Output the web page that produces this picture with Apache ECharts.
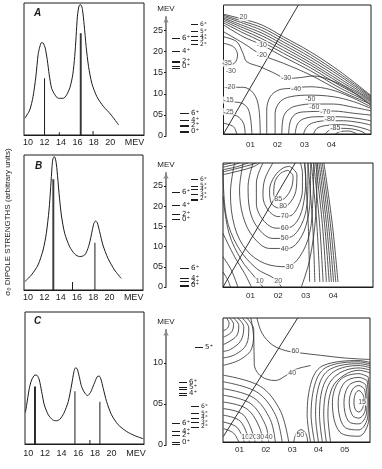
<!DOCTYPE html>
<html>
<head>
<meta charset="utf-8">
<script src="https://cdn.jsdelivr.net/npm/echarts@6/dist/echarts.min.js"></script>
<style>
  html, body { margin: 0; padding: 0; background: #fff; }
  #chart { width: 382px; height: 469px; }
</style>
</head>
<body>
<div id="chart"></div>
<script>
// ---- dipole strength curves (MeV, arbitrary units 0..100 = frame height)
const energyA = [9.6, 10.2, 10.6, 10.94, 11.22, 11.43, 11.63, 11.84, 12.08, 12.33, 12.57, 12.86, 13.27, 13.67, 14.29, 14.69, 15.1, 15.43, 15.67, 15.84, 16.0, 16.2, 16.41, 16.61, 16.82, 17.06, 17.35, 17.76, 18.37, 19.18, 20.0, 21.02];
const strengthA = [12.7, 19, 29, 44, 61, 67, 70, 69.6, 65.8, 57, 45.6, 35.4, 30.4, 27.8, 27.8, 30.4, 36.2, 45.6, 59.5, 74.7, 90, 98, 98.7, 95, 83.5, 67, 52, 39, 29, 21.5, 16, 7.6];
const stickEA = [12.0, 16.35, 16.45, 13.8, 17.9];
const stickHA = [43, 77, 77, 2, 3];

const energyB = [9.6, 10.41, 11.22, 11.84, 12.24, 12.57, 12.78, 12.94, 13.06, 13.22, 13.39, 13.55, 13.8, 14.08, 14.49, 15.1, 15.71, 16.33, 16.94, 17.35, 17.63, 17.88, 18.08, 18.29, 18.49, 18.78, 19.18, 19.8, 20.61, 21.43];
const strengthB = [6.2, 11.1, 18.5, 29.6, 42, 59.3, 76.5, 91.4, 97.5, 98.8, 96.3, 88.9, 71.6, 55.6, 42, 32.1, 26.7, 24.7, 25.9, 30.9, 37, 44.4, 49.4, 51.1, 49.9, 43.2, 33.3, 23.5, 14.8, 8.6];
const stickEB = [13.05, 13.15, 15.45, 18.2];
const stickHB = [82, 82, 6, 35];

const energyC = [9.65, 9.8, 10.12, 10.4, 10.8, 11.08, 11.32, 11.6, 11.92, 12.4, 12.92, 13.4, 13.8, 14.28, 14.8, 15.2, 15.48, 15.68, 15.88, 16.12, 16.4, 16.8, 17.12, 17.48, 17.88, 18.28, 18.52, 18.72, 19.0, 19.4, 20.0, 20.8, 21.8, 22.8, 23.8];
const strengthC = [24, 29.6, 42.2, 48.5, 52.3, 51.8, 48.5, 39.7, 29.6, 22.1, 18.3, 17.6, 18.8, 23.4, 32.2, 44.7, 54.8, 57.8, 56.8, 51, 43.5, 38.4, 36.7, 39.2, 45.2, 51, 51.5, 49.2, 42.2, 32.2, 22.1, 14.6, 9.5, 6.3, 4];
const stickEC = [10.75, 10.85, 15.6, 18.6, 17.4];
const stickHC = [43.5, 43.5, 40, 32, 3];

const mevTicks = [10, 12, 14, 16, 18, 20];

// ---- level schemes (energy, spin label, column)
const levEA = [2.31, 2.01, 1.78, 1.74, 1.65, 1.61, 2.64, 2.48, 2.37, 2.28, 2.17, 0.53, 0.37, 0.25, 0.22, 0.12, 0.08];
const levJA = ['6⁺', '4⁺', '2⁺', '', '0⁺', '', '6⁺', '5⁺', '4⁺', '3⁺', '2⁺', '6⁺', '4⁺', '2⁺', '', '0⁺', ''];
const levColA = [0, 0, 0, 0, 0, 0, 1, 1, 1, 1, 1, 2, 2, 2, 2, 2, 2];

const levEB = [2.34, 2.03, 1.80, 1.68, 2.67, 2.50, 2.42, 2.30, 2.18, 2.15, 0.46, 0.22, 0.13, 0.05, 0.02];
const levJB = ['6⁺', '4⁺', '2⁺', '0⁺', '6⁺', '5⁺', '4⁺', '3⁺', '2⁺', '', '6⁺', '4⁺', '2⁺', '0⁺', ''];
const levColB = [0, 0, 0, 0, 1, 1, 1, 1, 1, 1, 2, 2, 2, 2, 2];

const levEC = [1.19, 0.77, 0.70, 0.68, 0.63, 0.61, 0.47, 0.39, 0.33, 0.28, 0.22, 0.26, 0.17, 0.12, 0.03, 0.005];
const levJC = ['5⁺', '6⁺', '5⁺', '', '4⁺', '', '6⁺', '5⁺', '4⁺', '3⁺', '2⁺', '6⁺', '4⁺', '2⁺', '0⁺', ''];
const levColC = [3, 4, 4, 4, 4, 4, 5, 5, 5, 5, 5, 0, 0, 0, 0, 0];

// ---- potential energy surfaces, contour lines
const bandA = [
  [[0, .444], [.074, .425], [.142, .404], [.222, .360], [.321, .305], [.432, .231], [.545, .143]],
  [[0, .440], [.074, .417], [.142, .394], [.222, .351], [.321, .295], [.432, .222], [.545, .140]],
  [[0, .435], [.074, .410], [.142, .384], [.222, .341], [.321, .285], [.432, .214], [.545, .136]],
  [[0, .430], [.074, .401], [.142, .374], [.222, .331], [.321, .275], [.432, .205], [.545, .132]],
  [[0, .425], [.074, .393], [.142, .364], [.222, .321], [.321, .265], [.432, .196], [.545, .128]],
  [[0, .419], [.074, .384], [.142, .353], [.222, .310], [.321, .256], [.432, .188], [.545, .125]],
  [[0, .412], [.074, .374], [.142, .342], [.222, .299], [.321, .246], [.432, .179], [.545, .121]],
  [[0, .404], [.074, .360], [.142, .330], [.222, .286], [.321, .235], [.432, .170], [.545, .116]],
  [[0, .379], [.074, .336], [.142, .293], [.222, .262], [.321, .219], [.432, .160], [.545, .111]]
];
const saddleA = [
  [[0, .336], [.037, .323], [.052, .293], [.040, .262], [0, .252]],
  [[0, .360], [.049, .342], [.072, .299], [.086, .268], [.136, .249], [.185, .227], [.235, .206], [.284, .209], [.333, .215], [.395, .200], [.469, .163], [.545, .106]]
];
const leftA = [
  [[0, .173], [.074, .173], [.111, .151], [.130, .101], [.136, 0]],
  [[0, .120], [.062, .116], [.093, .089], [.105, 0]],
  [[0, .077], [.049, .067], [.074, .040], [.080, 0]],
  [[0, .040], [.037, .027], [.049, 0]]
];
const minA = [
  [[.160, 0], [.160, .089], [.173, .138], [.204, .163], [.247, .169], [.321, .175], [.395, .165], [.469, .138], [.545, .101]],
  [[.191, 0], [.191, .077], [.210, .120], [.247, .138], [.321, .144], [.407, .138], [.481, .120], [.545, .095]],
  [[.216, 0], [.222, .064], [.247, .095], [.284, .107], [.321, .111], [.407, .111], [.481, .099], [.545, .086]],
  [[.241, 0], [.249, .052], [.272, .077], [.321, .083], [.407, .085], [.481, .077], [.545, .070]],
  [[.265, 0], [.274, .037], [.296, .056], [.346, .064], [.420, .064], [.494, .058], [.545, .049]],
  [[.296, 0], [.309, .027], [.333, .042], [.383, .049], [.444, .049], [.506, .042], [.545, .033]],
  [[.333, 0], [.346, .021], [.377, .031], [.426, .035], [.481, .030], [.531, .017], [.545, .011]],
  [[.377, 0], [.393, .015], [.432, .021], [.475, .019], [.512, .009], [.525, 0]],
  [[.414, 0], [.432, .009], [.463, .011], [.494, 0]]
];
const labA = [
  [.074, .432, '20'], [.142, .330, '-10'], [.142, .293, '-20'], [.012, .262, '-35'], [.027, .235, '-30'],
  [.025, .173, '-20'], [.019, .126, '-15'], [.019, .083, '-25'], [.232, .206, '-30'], [.269, .165, '-40'],
  [.321, .128, '-50'], [.336, .099, '-60'], [.377, .080, '-70'], [.393, .054, '-80'], [.414, .021, '-85']
];
const diagA = [[0, 0], [.277, .478]];

const ellB = [
  [[.236, .421], [.254, .399], [.248, .357], [.224, .320], [.200, .312], [.184, .333], [.187, .375], [.208, .409], [.236, .421]],
  [[.242, .435], [.268, .405], [.264, .345], [.236, .296], [.206, .284], [.175, .302], [.169, .351], [.187, .399], [.218, .429], [.242, .435]],
  [[.181, .447], [.151, .387], [.145, .327], [.163, .278], [.200, .254], [.242, .256], [.272, .290], [.288, .351], [.288, .411], [.281, .447]],
  [[.145, .447], [.121, .375], [.121, .302], [.145, .242], [.193, .212], [.242, .215], [.278, .254], [.296, .327], [.300, .399], [.296, .447]],
  [[.109, .447], [.091, .363], [.097, .278], [.127, .212], [.181, .175], [.242, .179], [.284, .224], [.305, .302], [.308, .387], [.308, .447]],
  [[.073, .447], [.060, .351], [.073, .254], [.109, .181], [.169, .139], [.236, .139], [.284, .181], [.311, .266], [.317, .363], [.318, .447]],
  [[.042, .447], [.027, .339], [.042, .218], [.085, .133], [.151, .085], [.230, .073], [.278, .109], [.314, .193], [.326, .314], [.329, .447]]
];
const outerB = [
  [[0, .423], [.012, .254], [.054, .145], [.121, .067], [.187, .030], [.212, 0]],
  [[.284, 0], [.314, .097], [.336, .254], [.341, .447]],
  [[0, .327], [.022, .193], [.067, .097], [.115, .036], [.145, 0]],
  [[0, .193], [.042, .109], [.079, .048], [.103, 0]],
  [[0, .109], [.030, .061], [.054, 0]],
  [[0, .054], [.018, .024], [.027, 0]]
];
const wallB = [
  [[.296, .447], [.309, .230], [.314, .018]],
  [[.308, .447], [.325, .230], [.333, .018]],
  [[.320, .447], [.340, .230], [.351, .018]],
  [[.329, .447], [.350, .230], [.363, .018]],
  [[.336, .447], [.360, .230], [.375, .018]],
  [[.342, .447], [.368, .230], [.385, .018]],
  [[.348, .447], [.375, .230], [.393, .018]],
  [[.354, .447], [.382, .230], [.401, .018]],
  [[.360, .447], [.389, .230], [.409, .018]],
  [[.366, .447], [.396, .230], [.417, .018]]
];
const hatchB = [
  [[0, .440], [.030, .447]],
  [[0, .432], [.036, .440], [.060, .447]],
  [[0, .423], [.048, .433], [.091, .447]],
  [[0, .415], [.054, .428], [.103, .441], [.121, .447]],
  [[0, .405], [.060, .419], [.109, .433], [.133, .447]]
];
const labB = [
  [.200, .317, '85'], [.218, .290, '80'], [.224, .254, '70'], [.224, .212, '60'], [.224, .175, '50'],
  [.224, .135, '40'], [.242, .073, '30'], [.200, .022, '20'], [.133, .022, '10']
];
const diagB = [[0, 0], [.262, .447]];

const arcC = [
  [[.050, .472], [.060, .453], [.055, .434], [.039, .424]],
  [[.062, .472], [.077, .450], [.070, .419], [.039, .399]],
  [[.077, .472], [.097, .444], [.088, .403], [.039, .371]],
  [[.093, .472], [.116, .439], [.105, .386], [.065, .352], [.039, .345]],
  [[.110, .472], [.135, .434], [.126, .371], [.084, .333], [.039, .320]],
  [[.128, .472], [.154, .428], [.147, .358], [.103, .314], [.039, .292]],
  [[.166, .472], [.185, .415], [.223, .371], [.274, .348], [.331, .339], [.408, .330], [.497, .320], [.596, .314]],
  [[.143, .472], [.154, .396], [.156, .295], [.182, .250], [.236, .234], [.278, .254], [.312, .276], [.370, .291]]
];
const cornerC = [
  [[.039, .051], [.077, .034], [.097, 0]],
  [[.039, .076], [.090, .056], [.118, 0]],
  [[.039, .102], [.103, .079], [.138, 0]],
  [[.039, .127], [.116, .102], [.160, 0]],
  [[.039, .152], [.128, .126], [.179, .047], [.185, 0]],
  [[.039, .178], [.141, .147], [.198, .066], [.211, 0]],
  [[.039, .203], [.154, .168], [.217, .085], [.236, 0]],
  [[.039, .229], [.166, .190], [.236, .104], [.262, 0]],
  [[.039, .254], [.179, .212], [.255, .119], [.287, 0]],
  [[.306, 0], [.316, .034], [.334, .047], [.353, .030], [.359, 0]]
];
const minC = [
  [[.568, .183], [.554, .196], [.541, .185], [.535, .152], [.541, .122], [.554, .114], [.570, .135], [.573, .168], [.568, .183]],
  [[.575, .202], [.554, .215], [.530, .201], [.517, .151], [.530, .100], [.554, .091], [.578, .122], [.580, .168], [.575, .202]],
  [[.580, .218], [.554, .231], [.514, .213], [.497, .150], [.514, .079], [.554, .069], [.583, .110], [.585, .168], [.580, .218]],
  [[.585, .234], [.554, .246], [.498, .225], [.475, .149], [.498, .058], [.554, .046], [.588, .099], [.590, .168], [.585, .234]],
  [[.589, .248], [.554, .260], [.481, .235], [.453, .149], [.481, .038], [.554, .022], [.592, .088], [.594, .168], [.589, .248]],
  [[.446, 0], [.436, .104], [.452, .206], [.497, .254], [.554, .273], [.596, .263]],
  [[.430, 0], [.420, .104], [.436, .212], [.481, .263], [.554, .282], [.596, .274]],
  [[.415, 0], [.404, .104], [.420, .218], [.465, .272], [.554, .291], [.596, .283]],
  [[.400, 0], [.389, .104], [.405, .225], [.448, .279], [.554, .298], [.596, .291]],
  [[.385, 0], [.372, .104], [.390, .231], [.433, .286], [.554, .305], [.596, .297]],
  [[.370, 0], [.357, .104], [.375, .236], [.418, .291], [.554, .310], [.596, .303]]
];
const labC = [
  [.312, .345, '60'], [.300, .263, '40'], [.122, .019, '10'], [.151, .019, '20'], [.179, .019, '30'],
  [.211, .019, '40'], [.331, .025, '50'], [.566, .152, '15']
];
const diagC = [[.039, .022], [.321, .472]];

// ---------------------------------------------------------------------
const INK = '#1c1c1c';
const FONT = 'Liberation Sans';
const chart = echarts.init(document.getElementById('chart'), null, { renderer: 'canvas' });

// x positions of the level columns inside the level grid (0..1); crowded columns get smaller labels
const colX = [[0.12, 0.28], [0.50, 0.64], [0.28, 0.46], [0.58, 0.74], [0.26, 0.42], [0.50, 0.66]];
const colFont = [7, 6, 7, 7, 7, 6];

const grids = [
  { left: 24, top: 3, width: 120, height: 132 },      // spectrum A
  { left: 166, top: 17, width: 50, height: 119 },     // levels A
  { left: 223.5, top: 5, width: 147.5, height: 129 }, // surface A
  { left: 24, top: 155, width: 119, height: 135 },
  { left: 166, top: 173, width: 50, height: 114 },
  { left: 223, top: 163, width: 150, height: 124 },
  { left: 25, top: 312, width: 119, height: 132 },
  { left: 166, top: 330, width: 50, height: 115 },
  { left: 223, top: 318, width: 147, height: 124 }
].map((g, i) => Object.assign(g, {
  show: i % 3 !== 1,
  borderColor: INK,
  borderWidth: 1,
  backgroundColor: 'transparent'
}));

const xAxes = [];
const yAxes = [];
const series = [];

function spectrumAxes(min, max, margin) {
  xAxes.push({
    type: 'value', gridIndex: xAxes.length, min: min, max: max,
    splitLine: { show: false },
    axisLine: { show: true, lineStyle: { color: INK } },
    axisTick: { show: false },
    axisLabel: {
      customValues: mevTicks.concat([22.95]), margin: margin,
      formatter: v => v > 22 ? 'MEV' : String(v),
      fontSize: 9, color: INK, fontFamily: FONT
    }
  });
  yAxes.push({
    type: 'value', gridIndex: yAxes.length, min: 0, max: 100,
    splitLine: { show: false }, axisLabel: { show: false },
    axisTick: { show: false }, axisLine: { show: false }
  });
}

function levelAxes(max, ticks) {
  xAxes.push({ type: 'value', gridIndex: xAxes.length, min: 0, max: 1, show: false });
  yAxes.push({
    type: 'value', gridIndex: yAxes.length, min: 0, max: max,
    name: 'MEV', nameLocation: 'end', nameGap: 4,
    nameTextStyle: { fontSize: 8, color: INK, fontFamily: FONT, align: 'center' },
    splitLine: { show: false },
    axisLine: { show: true, symbol: ['none', 'arrow'], symbolSize: [4, 6], lineStyle: { color: '#8a8a8a', width: 2 } },
    axisTick: { show: true, customValues: ticks, length: 2, lineStyle: { color: INK } },
    axisLabel: {
      customValues: ticks, margin: 3, fontSize: 9, color: INK, fontFamily: FONT,
      formatter: v => v === 0 ? '0' : String(Math.round(v * 10)).padStart(2, '0')
    }
  });
}

function surfaceAxes(xmin, xmax, ymax, ticks, margin) {
  xAxes.push({
    type: 'value', gridIndex: xAxes.length, min: xmin, max: xmax,
    splitLine: { show: false }, axisTick: { show: false },
    axisLine: { show: true, lineStyle: { color: INK } },
    axisLabel: {
      customValues: ticks, margin: margin, fontSize: 8, color: INK, fontFamily: FONT,
      formatter: v => '0' + Math.round(v * 10)
    }
  });
  yAxes.push({
    type: 'value', gridIndex: yAxes.length, min: 0, max: ymax,
    splitLine: { show: false }, axisLabel: { show: false },
    axisTick: { show: false }, axisLine: { show: false }
  });
}

function addSpectrum(idx, en, st, sE, sH) {
  series.push({
    type: 'line', xAxisIndex: idx, yAxisIndex: idx,
    data: en.map((e, i) => [e, st[i]]),
    showSymbol: false, smooth: 0.25,
    lineStyle: { color: INK, width: 1 }
  });
  series.push({
    type: 'bar', xAxisIndex: idx, yAxisIndex: idx,
    data: sE.map((e, i) => [e, sH[i]]),
    barWidth: 1, itemStyle: { color: INK }
  });
}

function addLevels(idx, lE, lJ, lC) {
  series.push({
    type: 'lines', coordinateSystem: 'cartesian2d', xAxisIndex: idx, yAxisIndex: idx,
    data: lE.map((e, i) => ({
      name: lJ[i],
      coords: [[colX[lC[i]][0], e], [colX[lC[i]][1], e]],
      label: { fontSize: colFont[lC[i]] }
    })),
    lineStyle: { color: INK, width: 1, opacity: 1 },
    label: { show: true, position: 'end', formatter: '{b}', fontSize: 7, distance: 2, color: INK, fontFamily: 'DejaVu Sans' }
  });
}

function addSurface(idx, lines, labels, diag) {
  lines.forEach(pts => series.push({
    type: 'line', xAxisIndex: idx, yAxisIndex: idx, data: pts,
    showSymbol: false, smooth: 0.35,
    lineStyle: { color: '#2a2a2a', width: 0.8 }
  }));
  series.push({
    type: 'line', xAxisIndex: idx, yAxisIndex: idx, data: diag,
    showSymbol: false, lineStyle: { color: INK, width: 0.9 }
  });
  series.push({
    type: 'scatter', xAxisIndex: idx, yAxisIndex: idx, symbolSize: 0, z: 5,
    data: labels.map(l => ({ name: l[2], value: [l[0], l[1]] })),
    label: {
      show: true, position: 'inside', formatter: '{b}', fontSize: 7, color: INK,
      fontFamily: FONT, backgroundColor: '#fff', padding: [0, 1]
    }
  });
}

spectrumAxes(9.5, 24.1, 3);
levelAxes(2.82, [0, 0.5, 1, 1.5, 2, 2.5]);
surfaceAxes(0, 0.546, 0.478, [0.1, 0.2, 0.3, 0.4], 7);
spectrumAxes(9.5, 24.1, 3);
levelAxes(2.82, [0, 0.5, 1, 1.5, 2, 2.5]);
surfaceAxes(0, 0.544, 0.447, [0.1, 0.2, 0.3, 0.4], 5);
spectrumAxes(9.6, 23.9, 5);
levelAxes(1.40, [0, 0.5, 1]);
surfaceAxes(0.037, 0.596, 0.472, [0.1, 0.2, 0.3, 0.4, 0.5], 4);

addSpectrum(0, energyA, strengthA, stickEA, stickHA);
addLevels(1, levEA, levJA, levColA);
addSurface(2, bandA.concat(saddleA, leftA, minA), labA, diagA);
addSpectrum(3, energyB, strengthB, stickEB, stickHB);
addLevels(4, levEB, levJB, levColB);
addSurface(5, ellB.concat(outerB, wallB, hatchB), labB, diagB);
addSpectrum(6, energyC, strengthC, stickEC, stickHC);
addLevels(7, levEC, levJC, levColC);
addSurface(8, arcC.concat(cornerC, minC), labC, diagC);

const panelTag = (txt, x, y) => ({
  type: 'text', left: x, top: y,
  style: { text: txt, font: 'italic bold 10px "Liberation Sans"', fill: INK }
});

chart.setOption({
  animation: false,
  backgroundColor: '#fff',
  grid: grids,
  xAxis: xAxes,
  yAxis: yAxes,
  series: series,
  graphic: [
    panelTag('A', 34, 8),
    panelTag('B', 35, 161),
    panelTag('C', 34, 316),
    {
      type: 'text', x: 8, y: 222, rotation: Math.PI / 2,
      style: {
        text: 'σ₀ DIPOLE STRENGTHS (arbitrary units)',
        font: '8px "Liberation Sans"', fill: INK,
        textAlign: 'center', textVerticalAlign: 'middle'
      }
    }
  ]
});
</script>
</body>
</html>
